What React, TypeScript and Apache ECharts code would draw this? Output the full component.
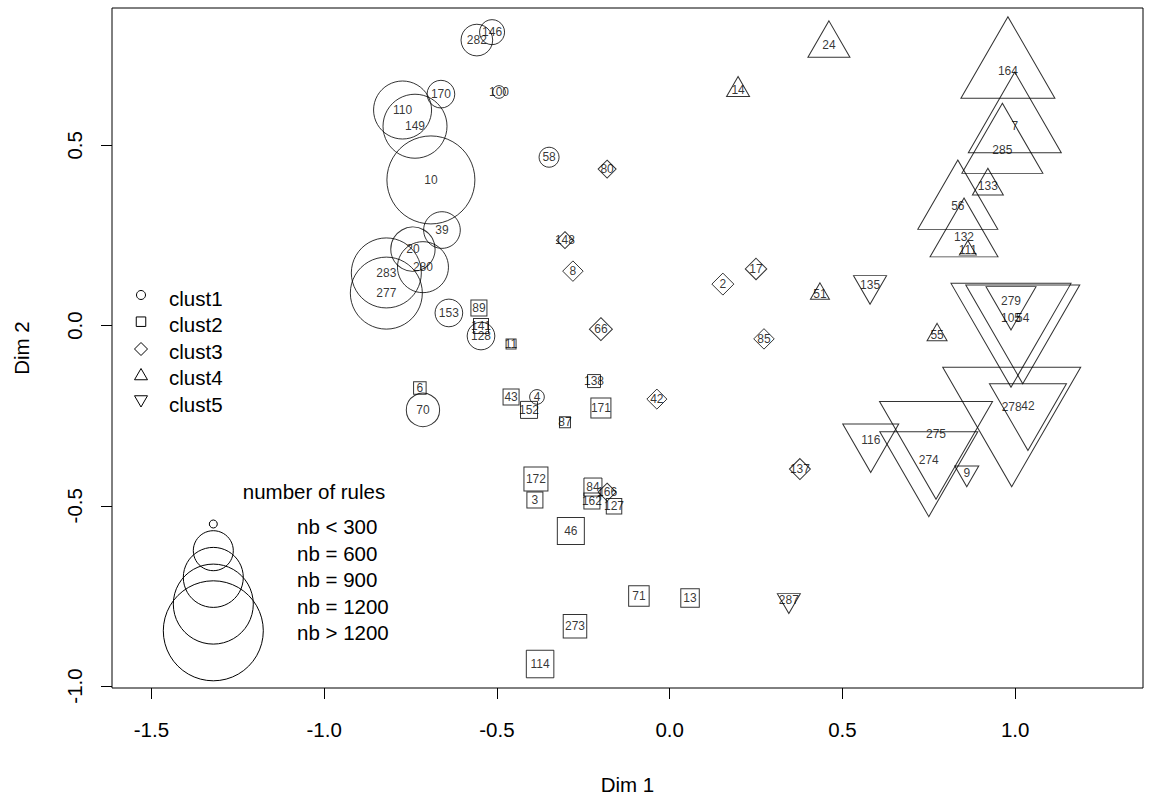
import React, { useEffect, useRef } from "react";
import * as echarts from "echarts";

// [rule id, Dim 1, Dim 2, number of rules]
type Pt = [string, number, number, number];

const clust1: Pt[] = [
  ["146", -0.514, 0.814, 375],
  ["282", -0.558, 0.792, 475],
  ["170", -0.662, 0.642, 415],
  ["100", -0.494, 0.648, 190],
  ["110", -0.773, 0.598, 870],
  ["149", -0.737, 0.553, 960],
  ["58", -0.349, 0.467, 300],
  ["10", -0.691, 0.404, 1320],
  ["39", -0.659, 0.265, 550],
  ["20", -0.743, 0.212, 665],
  ["280", -0.714, 0.162, 765],
  ["283", -0.82, 0.146, 1050],
  ["277", -0.82, 0.09, 1080],
  ["153", -0.639, 0.035, 415],
  ["128", -0.546, -0.029, 415],
  ["70", -0.714, -0.234, 500],
  ["4", -0.384, -0.198, 220],
];

const clust2: Pt[] = [
  ["89", -0.552, 0.049, 271],
  ["141", -0.546, -0.001, 254],
  ["11", -0.459, -0.051, 169],
  ["6", -0.723, -0.173, 212],
  ["43", -0.459, -0.198, 271],
  ["152", -0.407, -0.234, 288],
  ["87", -0.303, -0.268, 186],
  ["138", -0.219, -0.154, 220],
  ["171", -0.199, -0.229, 339],
  ["172", -0.387, -0.426, 406],
  ["3", -0.39, -0.484, 271],
  ["84", -0.222, -0.448, 305],
  ["162", -0.225, -0.487, 271],
  ["127", -0.161, -0.501, 262],
  ["46", -0.286, -0.57, 457],
  ["71", -0.089, -0.75, 347],
  ["13", 0.059, -0.756, 313],
  ["273", -0.274, -0.834, 398],
  ["114", -0.375, -0.939, 466],
];

const clust3: Pt[] = [
  ["80", -0.181, 0.434, 215],
  ["148", -0.303, 0.237, 203],
  ["8", -0.28, 0.151, 245],
  ["2", 0.154, 0.115, 263],
  ["17", 0.25, 0.157, 257],
  ["66", -0.199, -0.01, 275],
  ["85", 0.273, -0.037, 245],
  ["42", -0.037, -0.204, 240],
  ["137", 0.377, -0.398, 251],
  ["166", -0.181, -0.462, 215],
];

const clust4: Pt[] = [
  ["24", 0.461, 0.778, 468],
  ["14", 0.198, 0.654, 256],
  ["51", 0.435, 0.088, 212],
  ["164", 0.979, 0.706, 1047],
  ["7", 0.999, 0.554, 1036],
  ["285", 0.963, 0.487, 902],
  ["133", 0.921, 0.387, 345],
  ["56", 0.834, 0.331, 891],
  ["132", 0.852, 0.245, 757],
  ["111", 0.863, 0.209, 189],
  ["55", 0.774, -0.026, 223],
];

const clust5: Pt[] = [
  ["135", 0.58, 0.112, 368],
  ["279", 0.988, 0.068, 557],
  ["105", 0.988, 0.021, 1337],
  ["54", 1.022, 0.021, 1270],
  ["278", 0.99, -0.226, 1537],
  ["42", 1.037, -0.223, 858],
  ["275", 0.771, -0.301, 1259],
  ["274", 0.75, -0.373, 1092],
  ["116", 0.582, -0.318, 624],
  ["9", 0.86, -0.409, 267],
  ["287", 0.345, -0.762, 256],
];

const clusterNames = ["clust1", "clust2", "clust3", "clust4", "clust5"];
const sizeLegendLabels = ["nb < 300", "nb = 600", "nb = 900", "nb = 1200", "nb > 1200"];
const sizeLegendRules = [120, 600, 900, 1200, 1500];

const X_TICKS = [-1.5, -1.0, -0.5, 0.0, 0.5, 1.0];
const Y_TICKS = [-1.0, -0.5, 0.0, 0.5];
const X_MIN = -1.614;
const X_MAX = 1.37;
const Y_MIN = -1.0055;
const Y_MAX = 0.881;

const FONT = "'Liberation Sans', Arial, sans-serif";
const radiusOf = (rules: number) => rules / 30;

type Kind = "circle" | "rect" | "diamond" | "up" | "down";

function buildData(pts: Pt[], kind: Kind) {
  return pts.map(([id, x, y, n]) => {
    const r = radiusOf(n);
    if (kind === "circle") return { name: id, value: [x, y], symbolSize: 2 * r };
    if (kind === "rect") return { name: id, value: [x, y], symbolSize: 1.7725 * r };
    if (kind === "diamond") return { name: id, value: [x, y], symbolSize: 2.5066 * r };
    const w = 2.6935 * r;
    const h = 2.3327 * r;
    return {
      name: id,
      value: [x, y],
      symbolSize: [w, h],
      symbolOffset: [0, kind === "up" ? -h / 6 : h / 6],
    };
  });
}

function shapeSeries(name: string, pts: Pt[], kind: Kind) {
  const symbol =
    kind === "circle" ? "circle" : kind === "rect" ? "rect" : kind === "diamond" ? "diamond" : "triangle";
  return {
    name,
    type: "scatter",
    symbol,
    symbolRotate: kind === "down" ? 180 : 0,
    data: buildData(pts, kind),
    itemStyle: { color: "rgba(0,0,0,0)", borderColor: "#000", borderWidth: 1 },
    label: { show: false },
    emphasis: { disabled: true },
    silent: true,
    z: 2,
  };
}

export default function App() {
  const ref = useRef<HTMLDivElement>(null);

  useEffect(() => {
    if (!ref.current) return;
    document.body.style.margin = "0";
    const chart = echarts.init(ref.current, null, { renderer: "svg", width: 1149, height: 796 });

    const allPts = [...clust1, ...clust2, ...clust3, ...clust4, ...clust5];

    const graphics: any[] = [];
    // cluster legend
    const lx = 141;
    const symRows = [295, 321.7, 349, 376, 399.5];
    const txtRows = [298.3, 324.8, 351.3, 377.8, 404.3];
    const stroke = { fill: "none", stroke: "#000", lineWidth: 1 };
    graphics.push({ type: "circle", shape: { cx: lx, cy: symRows[0], r: 4.5 }, style: stroke });
    graphics.push({
      type: "rect",
      shape: { x: lx - 4.75, y: symRows[1] - 4.75, width: 9.5, height: 9.5 },
      style: stroke,
    });
    graphics.push({
      type: "polygon",
      shape: {
        points: [
          [lx, symRows[2] - 6.5],
          [lx + 6.5, symRows[2]],
          [lx, symRows[2] + 6.5],
          [lx - 6.5, symRows[2]],
        ],
      },
      style: stroke,
    });
    graphics.push({
      type: "polygon",
      shape: {
        points: [
          [lx, symRows[3] - 7.5],
          [lx + 6.5, symRows[3] + 3.75],
          [lx - 6.5, symRows[3] + 3.75],
        ],
      },
      style: stroke,
    });
    graphics.push({
      type: "polygon",
      shape: {
        points: [
          [lx, symRows[4] + 7.5],
          [lx + 6.5, symRows[4] - 3.75],
          [lx - 6.5, symRows[4] - 3.75],
        ],
      },
      style: stroke,
    });
    clusterNames.forEach((n, i) => {
      graphics.push({
        type: "text",
        x: 169,
        y: txtRows[i],
        style: {
          text: n,
          fill: "#000",
          font: `20.5px ${FONT}`,
          textAlign: "left",
          textVerticalAlign: "middle",
        },
      });
    });

    // size legend
    graphics.push({
      type: "text",
      x: 314,
      y: 491,
      style: {
        text: "number of rules",
        fill: "#000",
        font: `20.5px ${FONT}`,
        textAlign: "center",
        textVerticalAlign: "middle",
      },
    });
    sizeLegendLabels.forEach((lab, i) => {
      graphics.push({
        type: "circle",
        shape: { cx: 213.3, cy: 524 + 26.7 * i, r: radiusOf(sizeLegendRules[i]) },
        style: stroke,
      });
      graphics.push({
        type: "text",
        x: 297,
        y: 526.5 + 26.6 * i,
        style: {
          text: lab,
          fill: "#000",
          font: `20.5px ${FONT}`,
          textAlign: "left",
          textVerticalAlign: "middle",
        },
      });
    });

    const option: any = {
      animation: false,
      backgroundColor: "#fff",
      textStyle: { fontFamily: FONT },
      grid: {
        left: 112,
        right: 6,
        top: 8,
        bottom: 108,
        show: true,
        containLabel: false,
        outerBoundsMode: "none",
        borderColor: "#000",
        borderWidth: 1,
        backgroundColor: "rgba(0,0,0,0)",
      },
      xAxis: {
        type: "value",
        min: X_MIN,
        max: X_MAX,
        position: "bottom",
        name: "Dim 1",
        nameLocation: "middle",
        nameGap: 86,
        nameTextStyle: { fontSize: 20.5, color: "#000", fontFamily: FONT },
        axisLine: { show: false, onZero: false },
        splitLine: { show: false },
        axisTick: {
          show: true,
          customValues: X_TICKS,
          length: 11,
          lineStyle: { color: "#000", width: 1 },
        },
        axisLabel: {
          customValues: X_TICKS,
          formatter: (v: number) => v.toFixed(1),
          fontSize: 20.5,
          color: "#000",
          fontFamily: FONT,
          margin: 31,
        },
      },
      yAxis: {
        type: "value",
        min: Y_MIN,
        max: Y_MAX,
        position: "left",
        name: "Dim 2",
        nameLocation: "middle",
        nameGap: 80,
        nameRotate: 90,
        nameTextStyle: { fontSize: 20.5, color: "#000", fontFamily: FONT },
        axisLine: { show: false, onZero: false },
        splitLine: { show: false },
        axisTick: {
          show: true,
          customValues: Y_TICKS,
          length: 11,
          lineStyle: { color: "#000", width: 1 },
        },
        axisLabel: {
          customValues: Y_TICKS,
          formatter: (v: number) => v.toFixed(1),
          rotate: 90,
          fontSize: 20.5,
          color: "#000",
          fontFamily: FONT,
          margin: 27,
        },
      },
      graphic: graphics,
      series: [
        shapeSeries("clust1", clust1, "circle"),
        shapeSeries("clust2", clust2, "rect"),
        shapeSeries("clust3", clust3, "diamond"),
        shapeSeries("clust4", clust4, "up"),
        shapeSeries("clust5", clust5, "down"),
        {
          name: "labels",
          type: "scatter",
          symbol: "circle",
          symbolSize: 1,
          itemStyle: { color: "rgba(0,0,0,0)" },
          data: allPts.map(([id, x, y]) => ({ name: id, value: [x, y] })),
          label: {
            show: true,
            position: "inside",
            formatter: "{b}",
            fontSize: 12,
            color: "#000",
            textBorderWidth: 0,
            textBorderColor: "transparent",
            fontFamily: FONT,
          },
          labelLayout: { hideOverlap: false },
          emphasis: { disabled: true },
          silent: true,
          z: 5,
        },
      ],
    };

    chart.setOption(option);
    return () => chart.dispose();
  }, []);

  return (
    <div
      ref={ref}
      style={{ position: "absolute", left: 0, top: 0, width: 1149, height: 796, background: "#fff" }}
    />
  );
}
